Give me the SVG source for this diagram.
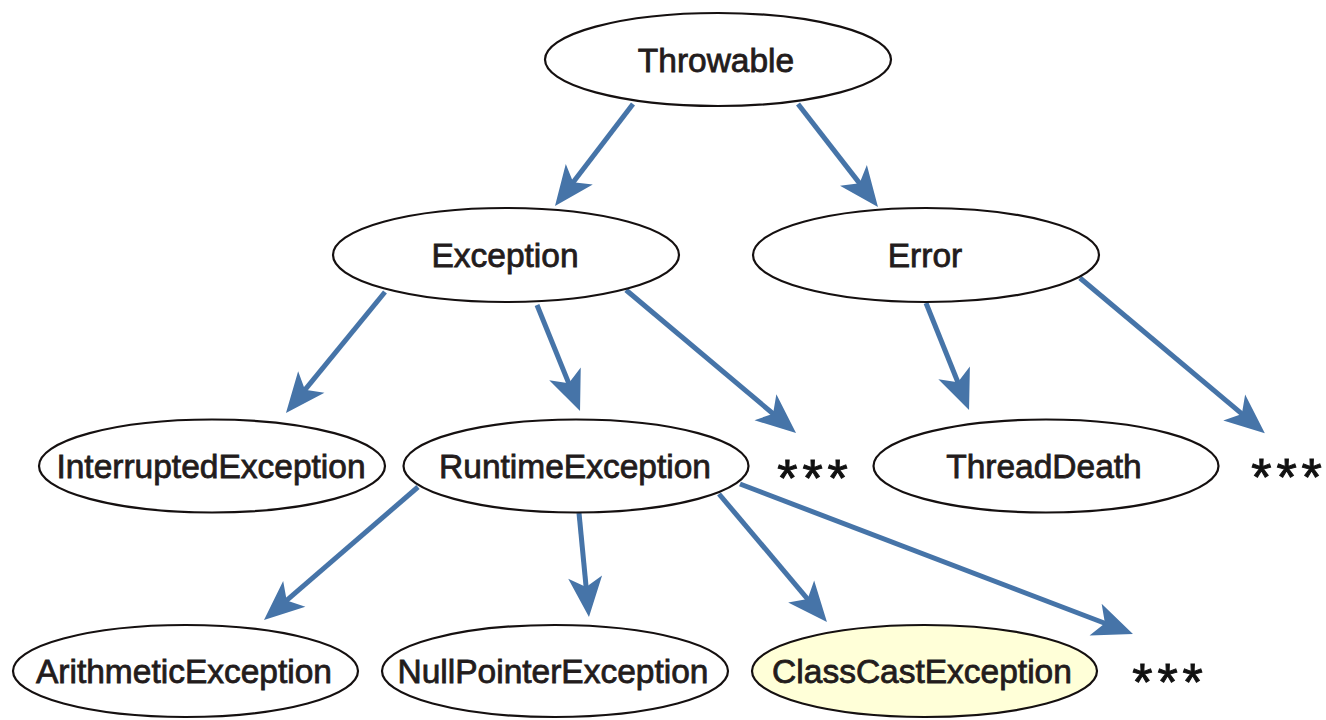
<svg xmlns="http://www.w3.org/2000/svg" width="1326" height="720" viewBox="0 0 1326 720">
<style>
.node ellipse{fill:#ffffff;stroke:#151010;stroke-width:2.2}
.node.hl ellipse{fill:#ffffd8}
.node text{font-family:"Liberation Sans",Arial,sans-serif;font-size:33.5px;fill:#231c1c;stroke:#231c1c;stroke-width:0.8;text-anchor:middle}
.more{font-family:"Liberation Sans",Arial,sans-serif;font-size:52px;fill:#111;stroke:#111;stroke-width:1;letter-spacing:5px;text-anchor:middle}
.edges line{stroke:#4674a8;stroke-width:5;marker-end:url(#arr)}
</style>
<defs>
<marker id="arr" markerUnits="userSpaceOnUse" viewBox="-42 -19 44 38" refX="-28" refY="0" markerWidth="44" markerHeight="38" orient="auto">
<path d="M0,0 L-40,-17 L-30,0 L-40,17 Z" fill="#4674a8"/>
</marker>
</defs>
<rect width="1326" height="720" fill="#ffffff"/>
<g class="edges" id="connectors">
<line x1="633" y1="104" x2="572.0" y2="183.8"/>
<line x1="798" y1="104" x2="860.8" y2="184.9"/>
<line x1="385" y1="292" x2="303.7" y2="391.3"/>
<line x1="537" y1="305" x2="569.5" y2="385.1"/>
<line x1="626" y1="290" x2="774.6" y2="415.0"/>
<line x1="926" y1="303" x2="958.6" y2="384.0"/>
<line x1="1080" y1="278" x2="1243.4" y2="415.2"/>
<line x1="418" y1="487" x2="285.2" y2="601.7"/>
<line x1="579" y1="513" x2="586.3" y2="589.1"/>
<line x1="719" y1="494" x2="808.9" y2="600.6"/>
<line x1="740" y1="484" x2="1106.8" y2="624.0"/>
</g>
<g class="node" id="throwable"><ellipse cx="718" cy="59.5" rx="173" ry="46.5"/><text x="716" y="72">Throwable</text></g>
<g class="node" id="exception"><ellipse cx="506" cy="255" rx="173" ry="47"/><text x="505" y="267">Exception</text></g>
<g class="node" id="error"><ellipse cx="926" cy="255" rx="173" ry="47"/><text x="925" y="267">Error</text></g>
<g class="node" id="interruptedexception"><ellipse cx="212" cy="466" rx="173" ry="46.5"/><text x="211" y="478">InterruptedException</text></g>
<g class="node" id="runtimeexception"><ellipse cx="576" cy="466" rx="172.5" ry="46.5"/><text x="575" y="478">RuntimeException</text></g>
<g class="node" id="threaddeath"><ellipse cx="1046" cy="466" rx="172.5" ry="46.5"/><text x="1044" y="478">ThreadDeath</text></g>
<g class="node" id="arithmeticexception"><ellipse cx="185.5" cy="671" rx="172.5" ry="46"/><text x="184" y="683">ArithmeticException</text></g>
<g class="node" id="nullpointerexception"><ellipse cx="555" cy="671" rx="173" ry="46"/><text x="553" y="683">NullPointerException</text></g>
<g class="node hl" id="classcastexception"><ellipse cx="924.5" cy="671" rx="172.5" ry="46"/><text x="922" y="683">ClassCastException</text></g>
<g id="more">
<text class="more" x="815" y="496">***</text>
<text class="more" x="1289" y="495">***</text>
<text class="more" x="1170" y="700">***</text>
</g>
</svg>
